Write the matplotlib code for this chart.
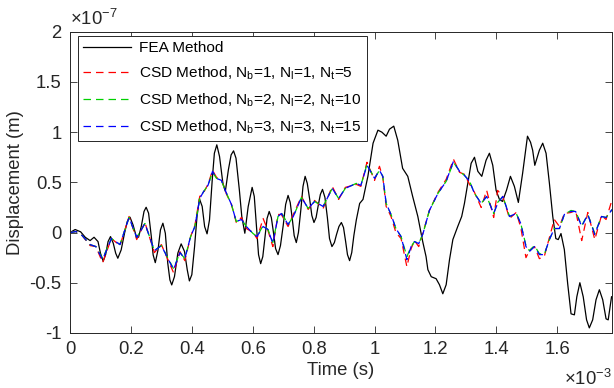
"""Displacement time history: FEA vs CSD method."""

import matplotlib
matplotlib.use('Agg')
import matplotlib.pyplot as plt

plt.rcParams['font.family'] = ['Liberation Sans', 'DejaVu Sans']
plt.rcParams['mathtext.fontset'] = 'custom'
plt.rcParams['mathtext.rm'] = 'Liberation Sans'
plt.rcParams['mathtext.it'] = 'Liberation Sans'
plt.rcParams['axes.unicode_minus'] = False

# time in 1e-3 s, displacement in 1e-7 m
fea_t = [0.0, 0.017, 0.035, 0.05, 0.066, 0.079, 0.092, 0.1, 0.109, 0.117,
         0.125, 0.133, 0.142, 0.15, 0.157, 0.168, 0.179, 0.188, 0.197, 0.207,
         0.217, 0.225, 0.234, 0.243, 0.25, 0.258, 0.267, 0.273, 0.28, 0.289,
         0.297, 0.305, 0.313, 0.321, 0.328, 0.334, 0.343, 0.354, 0.365, 0.376,
         0.385, 0.392, 0.4, 0.409, 0.417, 0.425, 0.434, 0.442, 0.45, 0.458,
         0.467, 0.474, 0.482, 0.491, 0.502, 0.51, 0.52, 0.529, 0.537, 0.545,
         0.556, 0.564, 0.574, 0.585, 0.598, 0.605, 0.612, 0.619, 0.626, 0.633,
         0.64, 0.647, 0.654, 0.661, 0.668, 0.675, 0.683, 0.691, 0.70, 0.708,
         0.716, 0.723, 0.73, 0.736, 0.743, 0.75, 0.758, 0.765, 0.772, 0.779,
         0.787, 0.794, 0.801, 0.808, 0.815, 0.822, 0.829, 0.837, 0.845, 0.852,
         0.86, 0.868, 0.875, 0.883, 0.891, 0.898, 0.905, 0.911, 0.918, 0.925,
         0.932, 0.94, 0.951, 0.962, 0.978, 0.995, 1.011, 1.024, 1.038, 1.049,
         1.063, 1.076, 1.092, 1.109, 1.125, 1.142, 1.158, 1.169, 1.175, 1.186,
         1.202, 1.213, 1.224, 1.235, 1.246, 1.257, 1.273, 1.286, 1.295, 1.306,
         1.317, 1.328, 1.339, 1.352, 1.366, 1.377, 1.388, 1.399, 1.41, 1.42,
         1.433, 1.446, 1.459, 1.472, 1.486, 1.502, 1.512, 1.519, 1.526, 1.541,
         1.552, 1.563, 1.574, 1.585, 1.595, 1.603, 1.612, 1.623, 1.634, 1.645,
         1.656, 1.664, 1.674, 1.685, 1.696, 1.705, 1.716, 1.727, 1.738, 1.749,
         1.76, 1.767, 1.778]
fea_y = [0.0, 0.03, 0.007, -0.047, -0.08, -0.047, -0.09, -0.206, -0.286, -0.22,
         -0.09, -0.04, -0.106, -0.206, -0.256, -0.173, -0.007, 0.11, 0.153, 0.076,
         -0.033, -0.047, 0.06, 0.21, 0.252, 0.193, -0.04, -0.223, -0.30, -0.173,
         0.027, 0.093, -0.007, -0.306, -0.472, -0.522, -0.439, -0.206, -0.113, -0.189,
         -0.372, -0.482, -0.42, -0.14, 0.16, 0.336, 0.26, 0.06, -0.013, 0.126,
         0.525, 0.79, 0.874, 0.757, 0.49, 0.41, 0.625, 0.774, 0.814, 0.741,
         0.425, 0.16, -0.007, 0.258, 0.45, 0.36, 0.07, -0.22, -0.31, -0.24,
         -0.05, 0.14, 0.21, 0.15, 0.0, -0.16, -0.22, -0.13, 0.07, 0.28,
         0.37, 0.30, 0.13, -0.03, -0.10, 0.0, 0.23, 0.46, 0.56, 0.49,
         0.33, 0.17, 0.10, 0.15, 0.27, 0.38, 0.43, 0.35, 0.15, -0.06,
         -0.14, -0.10, -0.02, 0.06, 0.10, 0.05, -0.09, -0.22, -0.28, -0.20,
         -0.03, 0.125, 0.29, 0.33, 0.56, 0.89, 1.02, 1.0, 0.96, 1.03,
         1.06, 0.92, 0.64, 0.56, 0.36, 0.16, -0.09, -0.24, -0.37, -0.44,
         -0.46, -0.52, -0.61, -0.52, -0.27, -0.07, 0.06, 0.16, 0.29, 0.49,
         0.69, 0.75, 0.61, 0.56, 0.72, 0.79, 0.67, 0.42, 0.33, 0.31,
         0.42, 0.56, 0.46, 0.30, 0.59, 0.96, 0.90, 0.82, 0.67, 0.82,
         0.89, 0.79, 0.49, 0.16, -0.06, -0.07, -0.01, -0.17, -0.51, -0.81,
         -0.82, -0.64, -0.50, -0.64, -0.87, -0.95, -0.87, -0.67, -0.57, -0.67,
         -0.86, -0.87, -0.64]

csd_t = [0.0, 0.02, 0.04, 0.066, 0.085, 0.107, 0.136, 0.164, 0.194, 0.219,
         0.246, 0.277, 0.30, 0.34, 0.361, 0.377, 0.396, 0.41, 0.426, 0.439,
         0.453, 0.468, 0.481, 0.497, 0.514, 0.53, 0.546, 0.563, 0.579, 0.601,
         0.614, 0.634, 0.65, 0.666, 0.683, 0.694, 0.716, 0.733, 0.76, 0.782,
         0.803, 0.831, 0.861, 0.882, 0.904, 0.94, 0.955, 0.975, 1.0, 1.016,
         1.027, 1.038, 1.054, 1.07, 1.087, 1.106, 1.12, 1.131, 1.145, 1.159,
         1.18, 1.208, 1.235, 1.259, 1.279, 1.295, 1.312, 1.328, 1.35, 1.368,
         1.391, 1.404, 1.421, 1.443, 1.465, 1.48, 1.497, 1.508, 1.525, 1.541,
         1.557, 1.574, 1.59, 1.607, 1.623, 1.645, 1.66, 1.68, 1.70, 1.723,
         1.745, 1.76, 1.78]
csd1_y = [0.0, 0.01, -0.03, -0.13, -0.14, -0.30, -0.06, -0.13, 0.16, -0.07,
          0.10, -0.20, -0.12, -0.40, -0.19, -0.28, -0.04, 0.07, 0.36, 0.40,
          0.48, 0.62, 0.55, 0.53, 0.38, 0.28, 0.10, 0.15, 0.04, 0.0,
          -0.06, 0.14, 0.02, -0.14, 0.18, 0.18, 0.06, 0.18, 0.36, 0.23,
          0.32, 0.24, 0.46, 0.33, 0.45, 0.48, 0.46, 0.70, 0.52, 0.66,
          0.55, 0.26, 0.16, 0.0, -0.06, -0.34, -0.16, -0.08, -0.14, 0.0,
          0.22, 0.40, 0.53, 0.73, 0.60, 0.58, 0.48, 0.40, 0.25, 0.42,
          0.15, 0.42, 0.36, 0.14, 0.20, 0.05, -0.25, -0.18, -0.14, -0.26,
          -0.24, -0.05, 0.13, 0.06, 0.19, 0.20, 0.22, -0.08, 0.20, -0.07,
          0.17, 0.13, 0.33]
csd2_y = [0.0, 0.01, -0.03, -0.12, -0.14, -0.26, -0.06, -0.12, 0.15, -0.05,
          0.09, -0.18, -0.13, -0.36, -0.20, -0.26, -0.04, 0.06, 0.34, 0.41,
          0.47, 0.60, 0.54, 0.52, 0.39, 0.28, 0.11, 0.13, 0.06, -0.01,
          -0.04, 0.07, 0.03, -0.10, 0.16, 0.20, 0.08, 0.16, 0.35, 0.24,
          0.31, 0.26, 0.44, 0.34, 0.44, 0.49, 0.47, 0.68, 0.54, 0.62,
          0.56, 0.29, 0.18, 0.04, -0.04, -0.24, -0.14, -0.09, -0.11, -0.01,
          0.22, 0.39, 0.51, 0.70, 0.61, 0.57, 0.51, 0.39, 0.29, 0.36,
          0.19, 0.30, 0.36, 0.16, 0.19, 0.09, -0.13, -0.18, -0.13, -0.21,
          -0.22, -0.07, 0.04, 0.04, 0.18, 0.22, 0.21, 0.07, 0.18, -0.01,
          0.16, 0.15, 0.23]
csd3_y = [0.0, 0.01, -0.03, -0.12, -0.14, -0.27, -0.06, -0.12, 0.15, -0.05,
          0.09, -0.18, -0.13, -0.37, -0.20, -0.26, -0.04, 0.06, 0.34, 0.41,
          0.47, 0.61, 0.54, 0.52, 0.39, 0.28, 0.11, 0.13, 0.06, -0.01,
          -0.04, 0.06, 0.03, -0.11, 0.16, 0.19, 0.08, 0.16, 0.35, 0.24,
          0.31, 0.26, 0.44, 0.34, 0.44, 0.49, 0.47, 0.67, 0.54, 0.62,
          0.56, 0.29, 0.18, 0.04, -0.04, -0.27, -0.14, -0.09, -0.11, -0.01,
          0.22, 0.39, 0.51, 0.71, 0.61, 0.57, 0.51, 0.39, 0.29, 0.36,
          0.19, 0.29, 0.36, 0.16, 0.19, 0.09, -0.14, -0.19, -0.14, -0.22,
          -0.22, -0.07, 0.04, 0.04, 0.18, 0.21, 0.21, 0.06, 0.18, -0.02,
          0.16, 0.15, 0.23]

labels = ['FEA Method',
          r'CSD Method, N$_\mathrm{b}$=1, N$_\mathrm{l}$=1, N$_\mathrm{t}$=5',
          r'CSD Method, N$_\mathrm{b}$=2, N$_\mathrm{l}$=2, N$_\mathrm{t}$=10',
          r'CSD Method, N$_\mathrm{b}$=3, N$_\mathrm{l}$=3, N$_\mathrm{t}$=15']

AX_COLOR = '#262626'

fig = plt.figure(figsize=(6.14, 3.88), dpi=100)
ax = fig.add_axes([0.114, 0.142, 0.883, 0.776])

ax.plot(fea_t, fea_y, color='k', lw=0.9, label=labels[0])
ax.plot(csd_t, csd1_y, color='#ff0000', lw=0.9, ls=(0, (6, 4)), label=labels[1])
ax.plot(csd_t, csd2_y, color='#00d000', lw=0.9, ls=(0, (6, 4)), label=labels[2])
ax.plot(csd_t, csd3_y, color='#0000ff', lw=0.9, ls=(0, (6, 4)), label=labels[3])

ax.set_xlim(0, 1.78)
ax.set_ylim(-1, 2)
ax.set_xticks([0, 0.2, 0.4, 0.6, 0.8, 1, 1.2, 1.4, 1.6])
ax.set_xticklabels(['0', '0.2', '0.4', '0.6', '0.8', '1', '1.2', '1.4', '1.6'])
ax.set_yticks([-1, -0.5, 0, 0.5, 1, 1.5, 2])
ax.set_yticklabels(['-1', '-0.5', '0', '0.5', '1', '1.5', '2'])

ax.tick_params(direction='in', length=5, width=0.6, top=True, right=True,
               labelsize=13.3, colors=AX_COLOR, pad=6)
for s in ax.spines.values():
    s.set_color(AX_COLOR)
    s.set_linewidth(0.7)

ax.set_xlabel('Time (s)', fontsize=13.3, color=AX_COLOR, labelpad=3)
ax.set_ylabel('Displacement (m)', fontsize=13.3, color=AX_COLOR, labelpad=4)

# MATLAB-style exponent labels
ax.text(0.0, 1.01, r'$\times$10$^{-7}$', transform=ax.transAxes,
        fontsize=13.3, color=AX_COLOR, ha='left', va='bottom')
ax.text(1.0, -0.12, r'$\times$10$^{-3}$', transform=ax.transAxes,
        fontsize=13.3, color=AX_COLOR, ha='right', va='top')

leg = ax.legend(loc='upper left', bbox_to_anchor=(8 / 542, 1 - 4 / 301),
                borderaxespad=0, fontsize=11.1, handlelength=3.1,
                handletextpad=0.5, labelspacing=0.62, borderpad=0.35,
                fancybox=False, framealpha=1)
leg.get_frame().set_edgecolor(AX_COLOR)
leg.get_frame().set_linewidth(0.7)

fig.savefig('out.png', dpi=100)
